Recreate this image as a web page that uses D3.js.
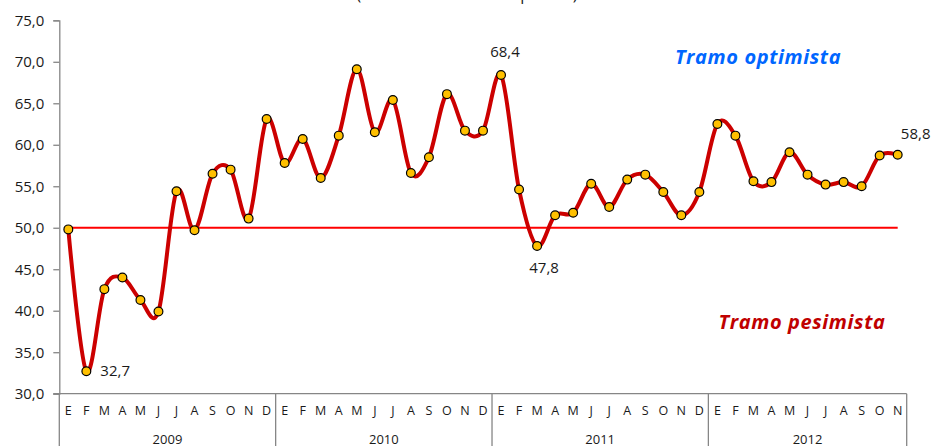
<!DOCTYPE html>
<meta charset="utf-8">
<head>
  <title>Índice de difusión</title>
</head>
<style>
  html, body {
    margin: 0;
    padding: 0;
    background: #fff;
    overflow: hidden;
  }
  svg text {
    font-family: "Open Sans", Arial, sans-serif;
    fill: #1a1a1a;
  }
</style>
<body>
<svg id="chart" width="932" height="446"></svg>
<script src="https://cdn.jsdelivr.net/npm/d3@7"></script>
<script>
var years = ['2009', '2010', '2011', '2012'];
var monthLabels = ['E', 'F', 'M', 'A', 'M', 'J', 'J', 'A', 'S', 'O', 'N', 'D'];

var v2009 = [49.8, 32.7, 42.6, 44.0, 41.3, 39.9, 54.4, 49.7, 56.5, 57.0, 51.1, 63.1];
var v2010 = [57.8, 60.7, 56.0, 61.1, 69.1, 61.5, 65.4, 56.6, 58.5, 66.1, 61.7, 61.7];
var v2011 = [68.4, 54.6, 47.8, 51.5, 51.8, 55.3, 52.5, 55.8, 56.4, 54.3, 51.5, 54.3];
var v2012 = [62.5, 61.1, 55.6, 55.5, 59.1, 56.4, 55.2, 55.5, 55.0, 58.7, 58.8];

var threshold = 50;
var yTicks = [30, 35, 40, 45, 50, 55, 60, 65, 70, 75];
// months (global index) that carry a value label
var labelled = [1, 24, 26, 46];

var title = '(Índice de difusión en puntos)';
var topNote = 'Tramo optimista';
var bottomNote = 'Tramo pesimista';

// flatten
var series = [];
[v2009, v2010, v2011, v2012].forEach(function(arr, yi) {
  arr.forEach(function(v, mi) {
    series.push({year: years[yi], month: monthLabels[mi], value: v});
  });
});

var svg = d3.select('#chart');
var plotL = 59.3, plotR = 906.7, plotT = 20.3, plotB = 393.7;

var x = d3.scaleBand()
  .domain(d3.range(series.length))
  .range([plotL, plotR])
  .padding(0);
var bw = x.bandwidth();
var cx = function(i) { return x(i) + bw / 2; };

var y = d3.scaleLinear().domain([30, 75]).range([plotB, plotT]);

var fmt = function(v) { return d3.format('.1f')(v).replace('.', ','); };

// y axis
var yAxis = d3.axisLeft(y)
  .tickValues(yTicks)
  .tickSize(6)
  .tickPadding(9)
  .tickFormat(fmt);
var gy = svg.append('g')
  .attr('transform', 'translate(' + plotL + ',0)')
  .call(yAxis);
gy.select('.domain').attr('stroke', '#868686').attr('stroke-width', 1.3);
gy.selectAll('.tick line').attr('stroke', '#868686').attr('stroke-width', 1.3);
gy.selectAll('.tick text')
  .style('font-size', '15px')
  .style('font-family', '"Open Sans", Arial, sans-serif')
  .attr('fill', '#1a1a1a');

// x axis: baseline + year separators
svg.append('line')
  .attr('x1', plotL - 6).attr('x2', plotR)
  .attr('y1', plotB).attr('y2', plotB)
  .attr('stroke', '#868686').attr('stroke-width', 1.3);

var yearStarts = years.map(function(yr) {
  return d3.min(series.map(function(d, i) { return d.year == yr ? i : Infinity; }));
});
var seps = yearStarts.map(function(i) { return x(i); }).concat([plotR]);
svg.selectAll('line.sep').data(seps).enter()
  .append('line')
  .attr('class', 'sep')
  .attr('x1', function(d) { return d; })
  .attr('x2', function(d) { return d; })
  .attr('y1', plotB)
  .attr('y2', 446)
  .attr('stroke', '#868686').attr('stroke-width', 1.3);

svg.selectAll('text.month').data(series).enter()
  .append('text')
  .attr('class', 'month')
  .attr('x', function(d, i) { return cx(i); })
  .attr('y', 415)
  .attr('text-anchor', 'middle')
  .style('font-size', '12.5px')
  .text(function(d) { return d.month; });

svg.selectAll('text.year').data(years).enter()
  .append('text')
  .attr('class', 'year')
  .attr('x', function(d, i) { return (seps[i] + seps[i + 1]) / 2; })
  .attr('y', 444)
  .attr('text-anchor', 'middle')
  .style('font-size', '13px')
  .text(function(d) { return d; });

// threshold line
svg.append('line')
  .attr('x1', cx(0)).attr('x2', cx(series.length - 1))
  .attr('y1', y(threshold)).attr('y2', y(threshold))
  .attr('stroke', '#ff0000').attr('stroke-width', 2);

// main series
var line = d3.line()
  .x(function(d, i) { return cx(i); })
  .y(function(d) { return y(d.value); })
  .curve(d3.curveCardinal.tension(0));

svg.append('path')
  .datum(series)
  .attr('d', line)
  .attr('fill', 'none')
  .attr('stroke', '#cc0000')
  .attr('stroke-width', 4)
  .attr('stroke-linejoin', 'round');

svg.selectAll('circle.pt').data(series).enter()
  .append('circle')
  .attr('class', 'pt')
  .attr('cx', function(d, i) { return cx(i); })
  .attr('cy', function(d) { return y(d.value); })
  .attr('r', 4.4)
  .attr('fill', '#ffc000')
  .attr('stroke', '#000')
  .attr('stroke-width', 1.2);

// value labels
var offsets = {1: [14, 5, 'start'], 24: [4, -18, 'middle'], 26: [7, 27, 'middle'], 46: [18, -16, 'middle']};
svg.selectAll('text.vl').data(labelled).enter()
  .append('text')
  .attr('class', 'vl')
  .attr('x', function(i) { return cx(i) + offsets[i][0]; })
  .attr('y', function(i) { return y(series[i].value) + offsets[i][1]; })
  .attr('text-anchor', function(i) { return offsets[i][2]; })
  .style('font-size', '15px')
  .text(function(i) { return fmt(series[i].value); });

// notes
svg.append('text')
  .attr('x', 758).attr('y', 64)
  .attr('text-anchor', 'middle')
  .style('font-size', '20px').style('font-weight', 'bold').style('font-style', 'italic')
  .style('letter-spacing', '0.6px')
  .style('fill', '#0066ff')
  .text(topNote);

svg.append('text')
  .attr('x', 802).attr('y', 329)
  .attr('text-anchor', 'middle')
  .style('font-size', '20px').style('font-weight', 'bold').style('font-style', 'italic')
  .style('letter-spacing', '0.6px')
  .style('fill', '#c00000')
  .text(bottomNote);

// title, mostly cropped at top
svg.append('text')
  .attr('x', 467).attr('y', 0)
  .attr('text-anchor', 'middle')
  .style('font-size', '16px')
  .text(title);
</script>
</body>
